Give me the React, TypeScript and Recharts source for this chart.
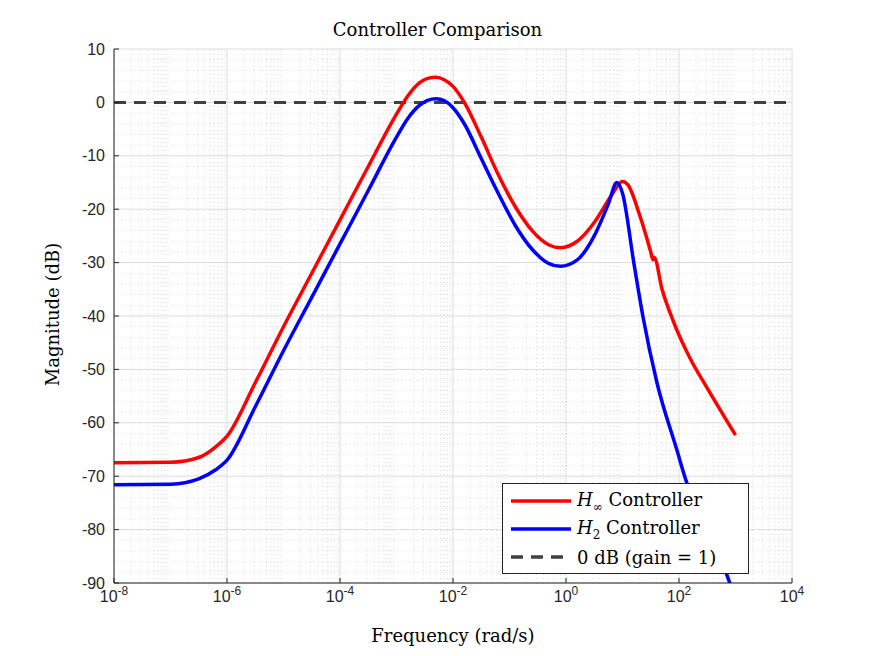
import React from "react";
import { ComposedChart, Line, XAxis, YAxis, CartesianGrid, ReferenceLine } from "recharts";

const hinfLogF = [-8,-7,-6.5,-6.2,-6,-5.5,-5,-4.5,-4,-3.5,-3,-2.8,-2.6,-2.45,-2.3,-2.15,-2,-1.8,-1.5,-1.2,-0.9,-0.6,-0.3,-0.1,0.2,0.5,0.8,1.0,1.1,1.3,1.5,1.54,1.56,1.7,1.9,2.2,2.5,3];
const hinfDb = [-67.5,-67.4,-66.5,-64.5,-62.5,-52.5,-42,-32,-22,-12,-2.2,1.2,3.6,4.5,4.7,4.2,3,0,-6.5,-13.5,-19.5,-24,-26.7,-27.2,-26,-22.5,-17.5,-14.8,-15.5,-21,-28,-29.5,-29,-35,-41,-48,-53.5,-62.3];
const h2LogF = [-8,-7,-6.5,-6.2,-6,-5.5,-5,-4.5,-4,-3.5,-3,-2.8,-2.6,-2.45,-2.3,-2.15,-2,-1.8,-1.5,-1.2,-0.9,-0.6,-0.3,-0.1,0.2,0.5,0.75,0.9,1.0,1.2,1.36,1.61,1.96,2.14,2.5,3];
const h2Db = [-71.6,-71.5,-70.5,-68.8,-67,-57,-46.5,-36.5,-26.5,-16.5,-6.5,-3,-0.6,0.4,0.7,0.3,-1,-4,-10.5,-17,-23,-27.5,-30.2,-30.7,-29.5,-25,-19,-15,-17,-30,-40,-52.5,-65,-71.3,-79,-93];
const xTicks = [-8,-6,-4,-2,0,2,4];
const yTicks = [10,0,-10,-20,-30,-40,-50,-60,-70,-80,-90];

const hinfData = hinfLogF.map((x, i) => ({ x, y: hinfDb[i] }));
const h2Data = h2LogF.map((x, i) => ({ x, y: h2Db[i] }));
const minorX: number[] = [];
for (let d = -8; d < 4; d++) for (let k = 2; k <= 9; k++) minorX.push(d + Math.log10(k));
const minorY: number[] = [];
for (let v = -90; v < 10; v += 2) if (v % 10 !== 0) minorY.push(v);

const XTick = (p: any) => {
  const { x, y, payload } = p;
  return (
    <text x={x} y={y + 22} textAnchor="middle" fontFamily="Liberation Sans, Arial" fontSize={16} fill="#262626">
      10<tspan dy={-7} fontSize={12}>{payload.value}</tspan>
    </text>
  );
};

export default function App() {
  return (
    <div style={{ position: "absolute", left: 0, top: 0, width: 875, height: 656, background: "#fff" }}>
      <ComposedChart width={875} height={656} margin={{ left: 114 - 60, right: 83, top: 49, bottom: 73 - 30 }}>
        <CartesianGrid stroke="#dcdcdc" horizontalValues={yTicks} verticalValues={xTicks} />
        {minorX.map((v) => (
          <ReferenceLine key={"mx" + v} x={v} stroke="#d0d0d0" strokeDasharray="1 3" strokeWidth={0.8} />
        ))}
        {minorY.map((v) => (
          <ReferenceLine key={"my" + v} y={v} stroke="#d0d0d0" strokeDasharray="1 3" strokeWidth={0.8} />
        ))}
        <XAxis type="number" dataKey="x" domain={[-8, 4]} ticks={xTicks} tick={<XTick />} height={30}
          stroke="#262626" tickSize={-5} allowDataOverflow />
        <XAxis xAxisId="top" orientation="top" type="number" domain={[-8, 4]} ticks={xTicks} tick={false} height={0}
          stroke="#262626" tickSize={-5} />
        <YAxis type="number" domain={[-90, 10]} ticks={yTicks} width={60} stroke="#262626" tickSize={-5}
          tick={{ fontFamily: "Liberation Sans, Arial", fontSize: 16, fill: "#262626", dx: -12 }} allowDataOverflow />
        <YAxis yAxisId="right" orientation="right" type="number" domain={[-90, 10]} ticks={yTicks} tick={false} width={0}
          stroke="#262626" tickSize={-5} />
        <ReferenceLine y={0} stroke="#404040" strokeWidth={3} strokeDasharray="12 8" />
        <Line data={hinfData} dataKey="y" type="monotone" stroke="#ff0000" strokeWidth={3.5} dot={false} isAnimationActive={false} />
        <Line data={h2Data} dataKey="y" type="monotone" stroke="#0000ff" strokeWidth={3.5} dot={false} isAnimationActive={false} />
      </ComposedChart>
      <div style={{ position: "absolute", left: 0, width: 875, top: 19, textAlign: "center", fontFamily: "DejaVu Serif, serif", fontSize: 18 }}>
        Controller Comparison
      </div>
      <div style={{ position: "absolute", left: 114, width: 678, top: 625, textAlign: "center", fontFamily: "DejaVu Serif, serif", fontSize: 18 }}>
        Frequency (rad/s)
      </div>
      <div style={{ position: "absolute", left: 52 - 100, top: 316 - 12, width: 200, textAlign: "center", transform: "rotate(-90deg)", fontFamily: "DejaVu Serif, serif", fontSize: 18 }}>
        Magnitude (dB)
      </div>
      <div style={{ position: "absolute", left: 502, top: 483, width: 247, height: 91, border: "1px solid #262626", background: "#fff", fontFamily: "DejaVu Serif, serif", fontSize: 18, boxSizing: "border-box" }}>
        {[
          { c: "#ff0000", dash: false, label: <><i>H</i><sub style={{ fontSize: 12 }}>∞</sub> Controller</> },
          { c: "#0000ff", dash: false, label: <><i>H</i><sub style={{ fontSize: 12 }}>2</sub> Controller</> },
          { c: "#404040", dash: true, label: <>0 dB (gain = 1)</> },
        ].map((r, i) => (
          <div key={i} style={{ position: "absolute", left: 6, top: 4 + i * 28, height: 26, display: "flex", alignItems: "center", whiteSpace: "nowrap" }}>
            <svg width={62} height={10} style={{ marginRight: 6 }}>
              <line x1={2} y1={5} x2={62} y2={5} stroke={r.c} strokeWidth={3.5} strokeDasharray={r.dash ? "12 8" : undefined} />
            </svg>
            <span>{r.label}</span>
          </div>
        ))}
      </div>
    </div>
  );
}
